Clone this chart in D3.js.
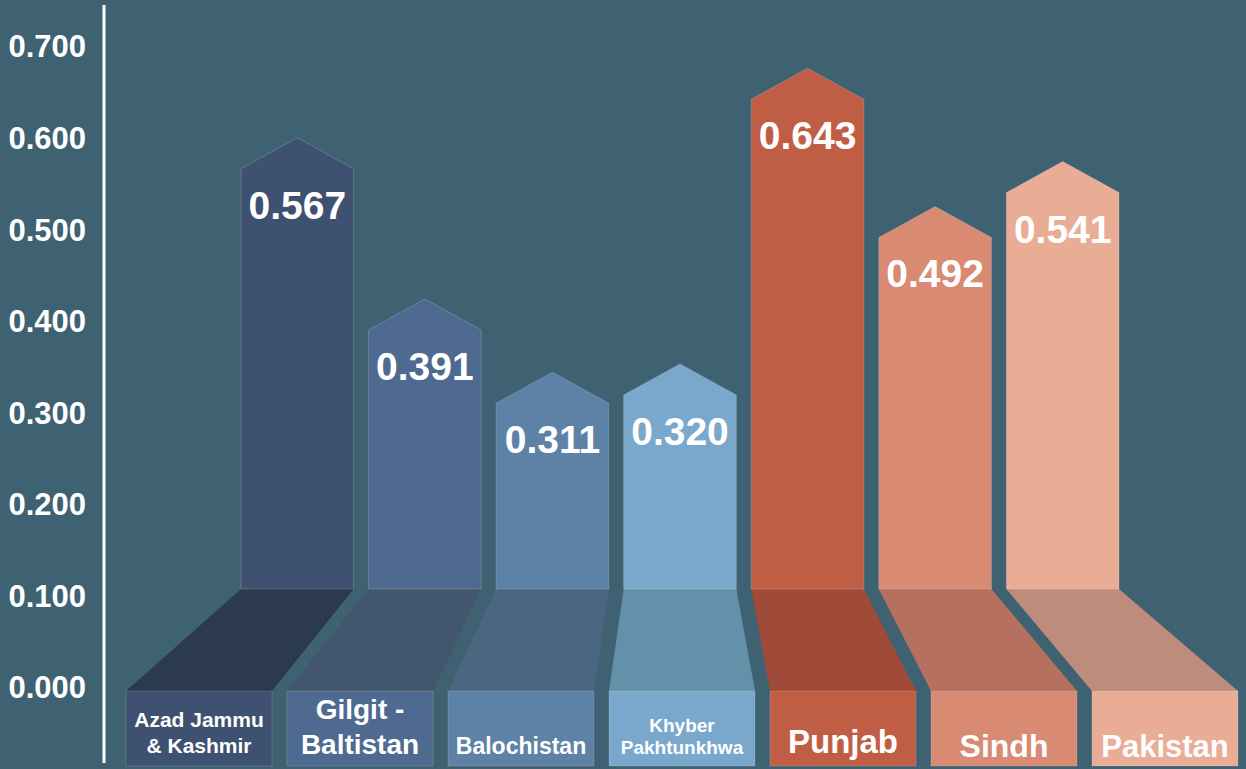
<!DOCTYPE html>
<html>
<head>
<meta charset="utf-8">
<script src="https://cdn.jsdelivr.net/npm/d3@7"></script>
<style>
  html, body { margin: 0; padding: 0; background: #3f6272; }
  svg { display: block; font-family: "Liberation Sans", Arial, sans-serif; }
</style>
</head>
<body>
<div id="chart"></div>
<script>
// data
var regions = ["Azad Jammu & Kashmir", "Gilgit - Baltistan", "Balochistan", "Khyber Pakhtunkhwa", "Punjab", "Sindh", "Pakistan"];
var labelLines = [["Azad Jammu", "& Kashmir"], ["Gilgit -", "Baltistan"], ["Balochistan"], ["Khyber", "Pakhtunkhwa"], ["Punjab"], ["Sindh"], ["Pakistan"]];
var values = [0.567, 0.391, 0.311, 0.320, 0.643, 0.492, 0.541];
var yTicks = [0, 0.1, 0.2, 0.3, 0.4, 0.5, 0.6, 0.7];

// colours: front face, floor (darker) face
var frontColors = ["#3e5170", "#4e6a90", "#5e82a6", "#7aa8cc", "#c05e45", "#d98a73", "#e9ad96"];
var floorColors = ["#2c3a4e", "#42566e", "#4a6680", "#6590aa", "#a04a3a", "#b57060", "#be8c7d"];

var width = 1246, height = 769;
var floorTop = 589, boxTop = 691, boxBottom = 766, tipH = 31;

var svg = d3.select("#chart").append("svg")
    .attr("width", width)
    .attr("height", height);

svg.append("rect").attr("width", width).attr("height", height).attr("fill", "#3f6272");

// scales
var y = d3.scaleLinear().domain([0, 0.7]).range([688, 47]);
var xBar = d3.scaleBand().domain(regions).range([241, 1119]).paddingInner(0.117);
var xBox = d3.scaleBand().domain(regions).range([126, 1238]).paddingInner(0.093);

// y axis
var yAxis = d3.axisLeft(y).tickValues(yTicks).tickFormat(d3.format(".3f")).tickSize(0).tickPadding(0);
var gy = svg.append("g").attr("transform", "translate(86,0)").call(yAxis);
gy.select(".domain").remove();
gy.selectAll("text")
    .attr("fill", "#fff")
    .attr("font-size", "31px")
    .attr("font-weight", "bold")
    .attr("font-family", "Liberation Sans, Arial, sans-serif");

svg.append("line")
    .attr("x1", 104).attr("x2", 104)
    .attr("y1", 5).attr("y2", 763)
    .attr("stroke", "#fff").attr("stroke-width", 3);

var data = regions.map(function(r, i) {
  return {region: r, value: values[i], lines: labelLines[i], i: i};
});

var bars = svg.selectAll(".bar").data(data).enter().append("g").attr("class", "bar");

// floor trapezoid
bars.append("path")
    .attr("fill", function(d) { return floorColors[d.i]; })
    .attr("d", function(d) {
      var a0 = xBar(d.region), a1 = a0 + xBar.bandwidth();
      var b0 = xBox(d.region), b1 = b0 + xBox.bandwidth();
      return "M" + a0 + "," + floorTop + "L" + a1 + "," + floorTop +
             "L" + b1 + "," + boxTop + "L" + b0 + "," + boxTop + "Z";
    });

// arrow shaped bar
bars.append("path")
    .attr("fill", function(d) { return frontColors[d.i]; })
    .attr("stroke", "rgba(255,255,255,0.18)")
    .attr("stroke-width", 1)
    .attr("d", function(d) {
      var a0 = xBar(d.region), a1 = a0 + xBar.bandwidth();
      var s = y(d.value), mid = (a0 + a1) / 2;
      return "M" + a0 + "," + floorTop + "L" + a0 + "," + s + "L" + mid + "," + (s - tipH) +
             "L" + a1 + "," + s + "L" + a1 + "," + floorTop + "Z";
    });

// label box
bars.append("rect")
    .attr("x", function(d) { return xBox(d.region); })
    .attr("y", boxTop)
    .attr("width", xBox.bandwidth())
    .attr("height", boxBottom - boxTop)
    .attr("fill", function(d) { return frontColors[d.i]; })
    .attr("stroke", "rgba(255,255,255,0.15)")
    .attr("stroke-width", 1);

// value labels
bars.append("text")
    .attr("x", function(d) { return xBar(d.region) + xBar.bandwidth() / 2; })
    .attr("y", function(d) { return y(d.value) + 50; })
    .attr("text-anchor", "middle")
    .attr("fill", "#fff")
    .attr("font-weight", "bold")
    .attr("font-size", "39px")
    .text(function(d) { return d3.format(".3f")(d.value); });

// region label styles (font size, baseline of last line, line gap)
var labelStyle = [
  {size: 21, base: 753, gap: 26},
  {size: 28, base: 754, gap: 35},
  {size: 23, base: 754, gap: 0},
  {size: 19, base: 754, gap: 22},
  {size: 33, base: 753, gap: 0},
  {size: 32, base: 757, gap: 0},
  {size: 31, base: 757, gap: 0}
];

bars.each(function(d) {
  var st = labelStyle[d.i];
  var t = d3.select(this).append("text")
      .attr("text-anchor", "middle")
      .attr("fill", "#fff")
      .attr("font-weight", "bold")
      .attr("font-size", st.size + "px");
  var n = d.lines.length;
  d.lines.forEach(function(line, k) {
    t.append("tspan")
        .attr("x", xBox(d.region) + xBox.bandwidth() / 2)
        .attr("y", st.base - (n - 1 - k) * st.gap)
        .text(line);
  });
});
</script>
</body>
</html>
